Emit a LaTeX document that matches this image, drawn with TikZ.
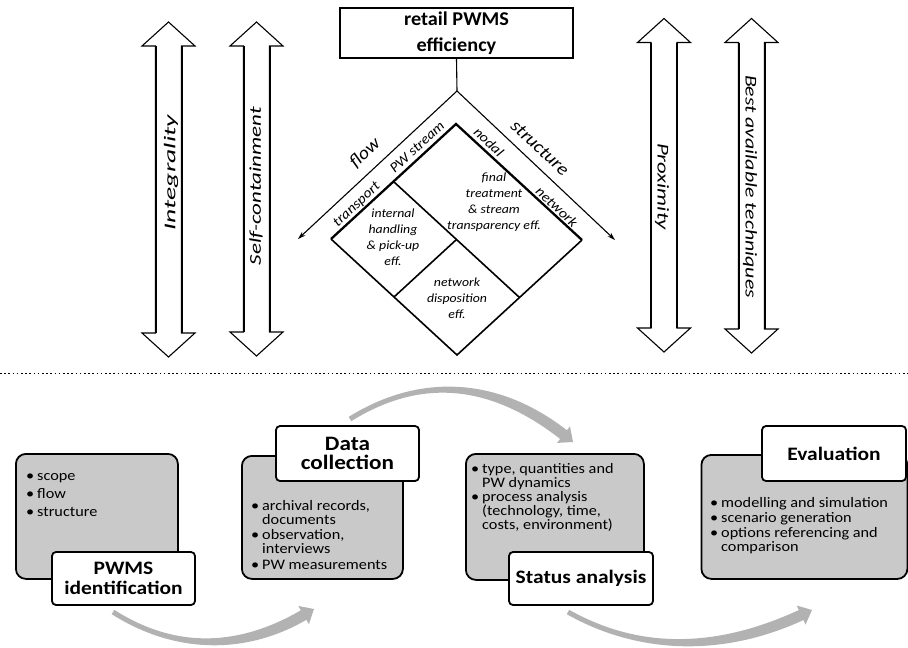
\documentclass[tikz,border=0pt]{standalone}
\usepackage{fontspec}
\usepackage{graphicx}
\setmainfont{Carlito}
\newfontfamily\topfont[FakeStretch=1.04]{Carlito}
\newfontfamily\headfont[FakeStretch=1.13]{Carlito}
\newfontfamily\bodyfont[FakeStretch=1.12]{Carlito}
\newfontfamily\slantfont[FakeStretch=1.1]{Carlito}
\usetikzlibrary{arrows.meta,calc}

% bullet and hanging indent for the step lists
\newcommand{\bul}{\makebox[11pt][l]{\textbullet}}
\newcommand{\ind}{\hspace*{11pt}}
% widen a label to a given length without changing its height
\newcommand{\stretchto}[2]{\resizebox{#1}{\height}{#2}}
% vertical double-headed principle arrow: centre x, top y, bottom y
\newcommand{\principle}[3]{%
  \draw[line width=1.1pt, line join=miter]
    (#1,#2) -- (#1+26.5,#2+24) -- (#1+13,#2+24) -- (#1+13,#3-24) -- (#1+26.5,#3-24)
    -- (#1,#3) -- (#1-26.5,#3-24) -- (#1-13,#3-24) -- (#1-13,#2+24) -- (#1-26.5,#2+24) -- cycle;
  \draw[line width=2pt] (#1+13,#2+24) -- (#1+13,#3-24) (#1-13,#2+24) -- (#1-13,#3-24);}
% tapered grey cycle arrow: start, control 1, control 2, tip
\newcommand{\cyclearrow}[4]{%
  \coordinate (ca0) at #1;
  \coordinate (ca1) at #2;
  \coordinate (ca2) at #3;
  \coordinate (catip) at #4;
  \coordinate (cahb) at ($(catip)!12pt!(ca2)$);
  \coordinate (sP) at ($(ca0)!2.5pt!90:(ca1)$);
  \coordinate (sM) at ($(ca0)!2.5pt!-90:(ca1)$);
  \coordinate (eP) at ($(cahb)!5.5pt!-90:(ca2)$);
  \coordinate (eM) at ($(cahb)!5.5pt!90:(ca2)$);
  \coordinate (wP) at ($(cahb)!10.5pt!-90:(ca2)$);
  \coordinate (wM) at ($(cahb)!10.5pt!90:(ca2)$);
  \fill[cyclegray] (sP) .. controls ($(ca1)+(sP)-(ca0)$) and ($(ca2)+(eP)-(cahb)$) .. (eP)
    -- (wP) -- (catip) -- (wM) -- (eM)
    .. controls ($(ca2)+(eM)-(cahb)$) and ($(ca1)+(sM)-(ca0)$) .. (sM) -- cycle;}

\begin{document}
\begin{tikzpicture}[x=1pt,y=-1pt,
  topbox/.style={draw, line width=1.7pt, fill=white, minimum width=233pt, minimum height=50pt,
    inner sep=0pt, align=center, font=\topfont\bfseries\fontsize{19.5}{26}\selectfont},
  thinline/.style={line width=1.1pt},
  sidearrow/.style={thinline, -{Stealth[length=8pt,width=5pt]}},
  dline/.style={line width=1.6pt, line join=miter},
  edgelabel/.style={inner sep=0pt, font=\slantfont\itshape\fontsize{14}{14}\selectfont},
  axislabel/.style={inner sep=0pt, font=\slantfont\itshape\fontsize{18}{18}\selectfont},
  celltext/.style={inner sep=0pt, align=center, font=\slantfont\itshape\fontsize{12.5}{16}\selectfont},
  vlabel/.style={inner sep=0pt, font=\itshape\fontsize{16.5}{16.5}\selectfont},
  graybox/.style={draw, line width=1.8pt, fill=black!21, rounded corners=10pt, anchor=north west, inner sep=0pt},
  labelbox/.style={draw, line width=1.8pt, fill=white, rounded corners=4pt, inner sep=0pt, align=center,
    font=\headfont\bfseries\fontsize{19}{20}\selectfont},
  bullets/.style={anchor=north west, inner sep=0pt, align=left, font=\bodyfont\fontsize{14.5}{14}\selectfont},
  cyclegray/.style={fill=black!30}
]
\useasboundingbox (0,0) rectangle (908,648);

% ---------- efficiency model ----------
\node[topbox] (eff) at (456.5,33) {retail PWMS\\efficiency};
\coordinate (apex) at (457,91);
\coordinate (flowtip) at (298,239);
\coordinate (structtip) at (615,240);
\draw[thinline] (eff.south) -- (apex);
\draw[sidearrow] (apex) -- (flowtip);
\draw[sidearrow] (apex) -- (structtip);

\coordinate (dT) at (456,124);
\coordinate (dL) at (331,239);
\coordinate (dR) at (582,240);
\coordinate (dB) at (457,355);
\coordinate (mUL) at ($(dT)!0.5!(dL)$);
\coordinate (mLR) at ($(dR)!0.5!(dB)$);
\coordinate (mLL) at ($(dL)!0.5!(dB)$);
\coordinate (dC) at ($(mUL)!0.5!(mLR)$);
\draw[dline] (dL) -- (dB) -- (dR);
\draw[dline, line width=2.3pt] (dL) -- (dT) -- (dR);
\draw[dline] (mUL) -- (mLR);
\draw[dline] (mLL) -- (dC);

\node[axislabel, rotate=43] (lflow) at (365,153) {flow};
\node[axislabel, rotate=-43] (lstruct) at (540,148) {structure};
\node[edgelabel, rotate=43] (lstream) at (417,147) {PW stream};
\node[edgelabel, rotate=43] (ltrans) at (357,205) {transport};
\node[edgelabel, rotate=-43] (lnodal) at (489,142) {nodal};
\node[edgelabel, rotate=-43] (lnet) at (557,207) {network};

\node[celltext] (cfinal) at (494,202.5) {final\\treatment\\\& stream\\transparency eff.};
\node[celltext] (chandle) at (393,237.5) {internal\\handling\\\& pick-up\\eff.};
\node[celltext] (cdisp) at (457,298.5) {network\\disposition\\eff.};

% ---------- principles ----------
\principle{168.5}{22}{357}
\principle{256.5}{22}{356}
\principle{664}{18.5}{352}
\principle{751.5}{18.5}{353}
\node[vlabel, rotate=90] (pint) at (171,172.5) {\stretchto{115pt}{Integrality}};
\node[vlabel, rotate=90] (pself) at (256,186) {\stretchto{158pt}{Self-containment}};
\node[vlabel, rotate=-90] (pprox) at (662,186.5) {\stretchto{87pt}{Proximity}};
\node[vlabel, rotate=-90] (pbat) at (750,186.5) {\stretchto{223pt}{Best available techniques}};

% ---------- separator ----------
\coordinate (sepL) at (0,373.5);
\coordinate (sepR) at (908,373.5);
\draw[line width=1.6pt, dash pattern=on 1.6pt off 2.6pt] (sepL) -- (sepR);

% ---------- procedure steps ----------
\node[graybox, minimum width=162pt, minimum height=125pt] (g1) at (15,453) {};
\node[graybox, minimum width=161pt, minimum height=123pt] (g2) at (241,455) {};
\node[graybox, minimum width=178pt, minimum height=126pt] (g3) at (465,453) {};
\node[graybox, minimum width=206pt, minimum height=124pt] (g4) at (700.5,454) {};

\node[bullets] (b1) at (26,473.5) {\bul scope\\[4pt]\bul flow\\[4pt]\bul structure};
\node[bullets] (b2) at (251,500.5) {\bul archival records,\\\ind documents\\[1pt]\bul observation,\\\ind interviews\\[1.5pt]\bul PW measurements};
\node[bullets] (b3) at (471,463.5) {\bul type, quantities and\\\ind PW dynamics\\\bul process analysis\\\ind (technology, time,\\\ind costs, environment)};
\node[bullets] (b4) at (710,497.5) {\bul modelling and simulation\\[1pt]\bul scenario generation\\[1pt]\bul options referencing and\\\ind comparison};

\node[labelbox, minimum width=143pt, minimum height=53pt] (t1) at (123.5,578.5) {PWMS\\identification};
\node[labelbox, minimum width=143pt, minimum height=55pt, font=\headfont\bfseries\fontsize{20.5}{19.5}\selectfont] (t2) at (347.5,453.5) {Data\\collection};
\node[labelbox, minimum width=144pt, minimum height=53pt] (t3) at (581,578.5) {Status analysis};
\node[labelbox, minimum width=144pt, minimum height=55pt] (t4) at (834,453.5) {Evaluation};

% ---------- cycle arrows ----------
\cyclearrow{(113,612)}{(175.3,651.7)}{(242.3,650.7)}{(314,609)}
\cyclearrow{(350,419)}{(422.3,374)}{(496,382)}{(573,442)}
\cyclearrow{(568,612)}{(640,652.7)}{(721.3,652)}{(812,610)}
\end{tikzpicture}
\end{document}
